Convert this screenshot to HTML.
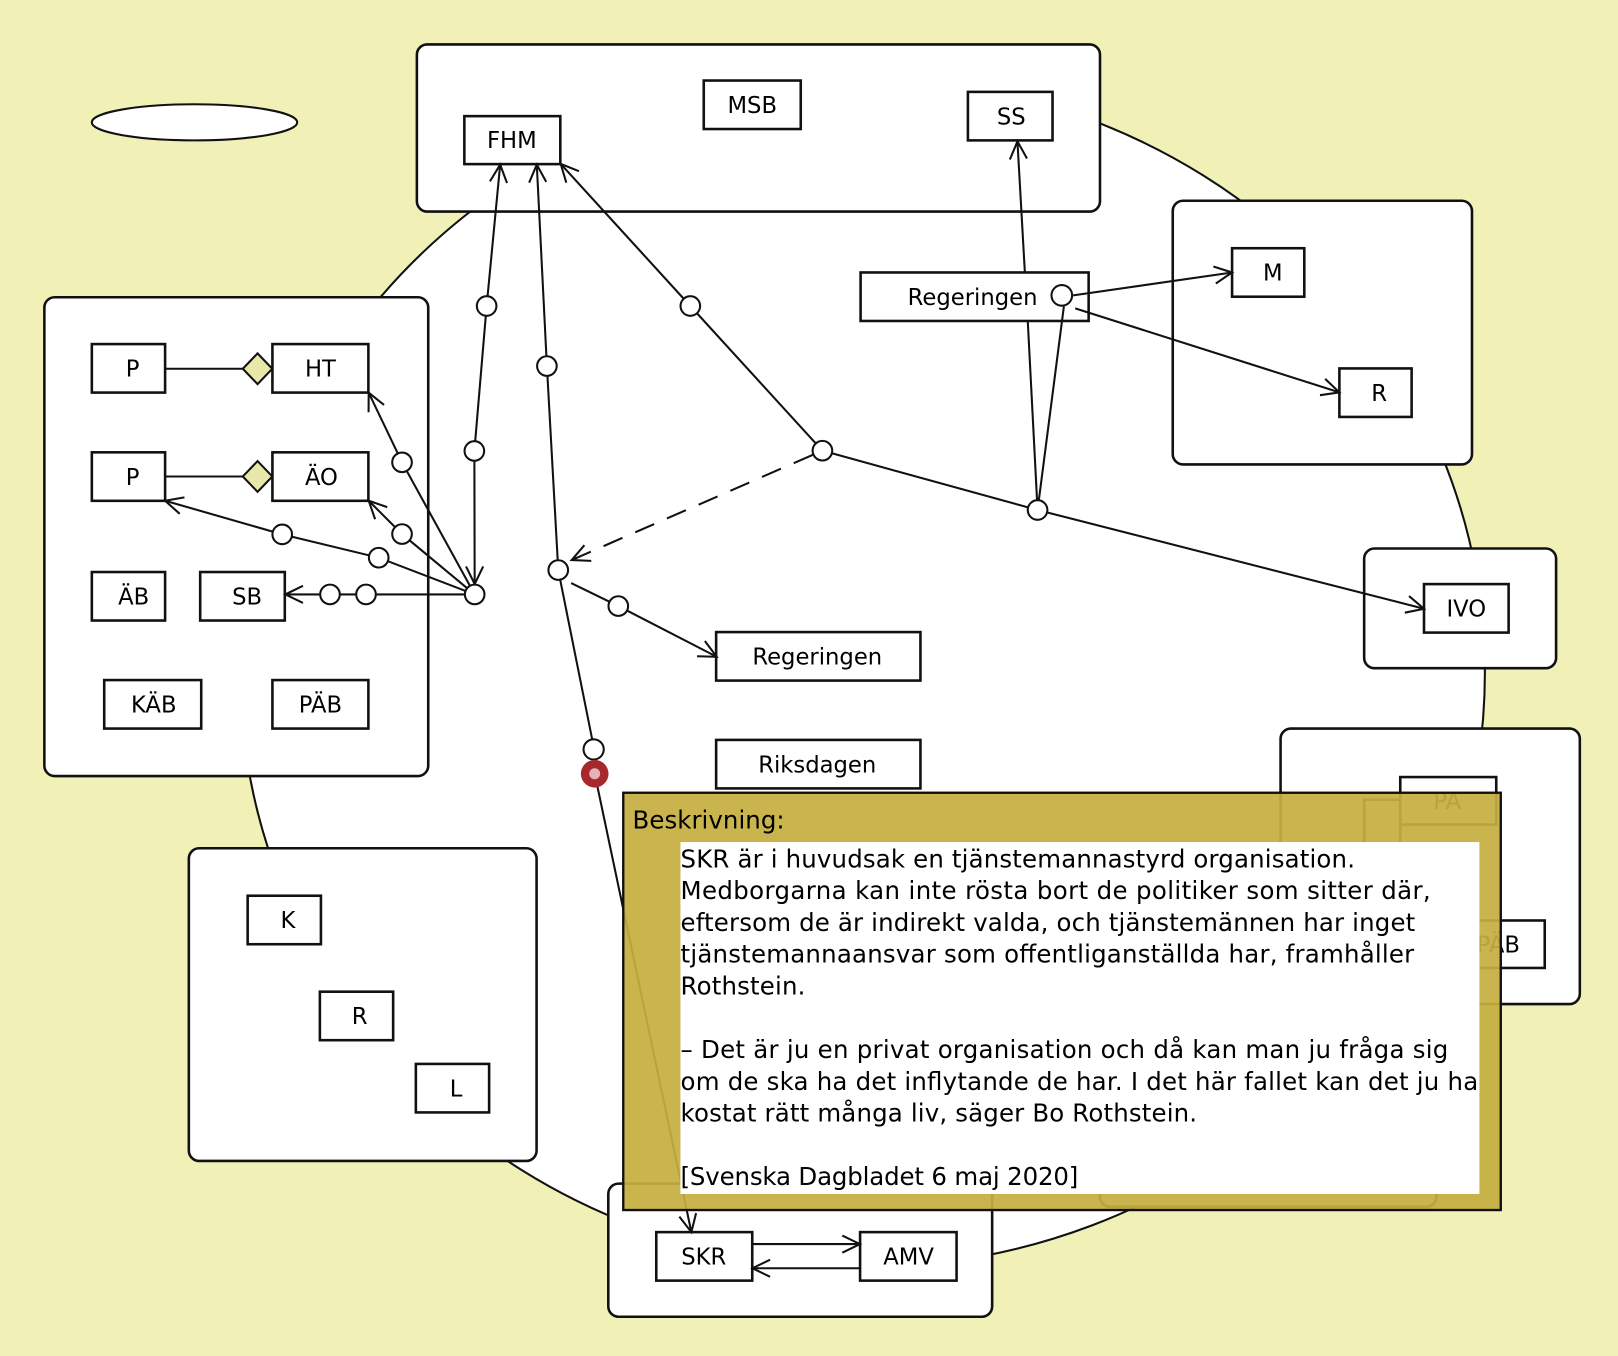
<!DOCTYPE html>
<html>
<head>
<meta charset="utf-8">
<style>
html,body{margin:0;padding:0;overflow:hidden;background:#F1F1B7;}
svg{display:block;}
text{font-family:"DejaVu Sans","Liberation Sans",sans-serif;fill:#000;}
.lbl{font-size:22px;text-anchor:middle;}
.nt{font-size:23.7px;}
.b{fill:#fff;stroke:#111;stroke-width:2.5;}
.l{fill:none;stroke:#111;stroke-width:2;}
.c{fill:#fff;stroke:#111;stroke-width:2;}
</style>
</head>
<body>
<svg width="1618" height="1356" viewBox="0 0 1568 1314" xmlns="http://www.w3.org/2000/svg">
<defs>
<marker id="a" viewBox="-20 -10 22 20" refX="0" refY="0" markerWidth="22" markerHeight="20" markerUnits="userSpaceOnUse" orient="auto-start-reverse" overflow="visible">
<path d="M-17.1,-8.3 L0,0 L-17.1,8.3" fill="none" stroke="#111" stroke-width="2"/>
</marker>
</defs>
<rect x="0" y="0" width="1568" height="1314" fill="#F1F1B7"/>

<!-- small ellipse -->
<ellipse cx="188.5" cy="118.5" rx="99.5" ry="17.5" fill="#fff" stroke="#111" stroke-width="2"/>
<!-- big ellipse -->
<ellipse cx="836" cy="652" rx="603" ry="576" fill="#fff" stroke="#111" stroke-width="2"/>

<!-- containers -->
<rect class="b" x="404" y="43" width="662" height="162" rx="10"/>
<rect class="b" x="43" y="288" width="372" height="464" rx="10"/>
<rect class="b" x="1136.5" y="194.5" width="290" height="255.5" rx="10"/>
<rect class="b" x="1322" y="531.5" width="186" height="116" rx="10"/>
<rect class="b" x="1241" y="706" width="290" height="267" rx="10"/>
<rect class="b" x="183" y="822" width="337" height="303" rx="10"/>
<rect class="b" x="589.5" y="1147" width="372" height="129" rx="10"/>
<rect class="b" x="1066" y="1000" width="326" height="169.5" rx="10"/>
<rect class="b" x="1322" y="775" width="35" height="200"/>

<!-- nodes -->
<rect class="b" x="450" y="112.5" width="93" height="46.5"/>
<text class="lbl" x="496" y="143.5">FHM</text>
<rect class="b" x="682" y="78" width="94" height="47"/>
<text class="lbl" x="729" y="109.5">MSB</text>
<rect class="b" x="938" y="89" width="82" height="47"/>
<text class="lbl" x="980" y="120.5">SS</text>
<rect class="b" x="834" y="264" width="221" height="47"/>
<text class="lbl" x="942.5" y="295.5">Regeringen</text>

<rect class="b" x="89" y="333.4" width="71" height="47"/>
<text class="lbl" x="128.5" y="365">P</text>
<rect class="b" x="264" y="333.4" width="93" height="47"/>
<text class="lbl" x="310.5" y="365">HT</text>
<rect class="b" x="89" y="438.3" width="71" height="47"/>
<text class="lbl" x="128.5" y="470">P</text>
<rect class="b" x="264" y="438.3" width="93" height="47"/>
<text class="lbl" x="311.5" y="470">ÄO</text>
<rect class="b" x="89" y="554.3" width="71" height="47"/>
<text class="lbl" x="129.5" y="586">ÄB</text>
<rect class="b" x="194" y="554.3" width="82" height="47"/>
<text class="lbl" x="239.5" y="586">SB</text>
<rect class="b" x="101" y="659" width="94" height="47"/>
<text class="lbl" x="149" y="690.5">KÄB</text>
<rect class="b" x="264" y="659" width="93" height="47"/>
<text class="lbl" x="310.5" y="690.5">PÄB</text>

<rect class="b" x="1194" y="240.5" width="70" height="47"/>
<text class="lbl" x="1233.5" y="272">M</text>
<rect class="b" x="1298" y="357" width="70" height="47"/>
<text class="lbl" x="1336.5" y="388.5">R</text>
<rect class="b" x="1380" y="566" width="82" height="47"/>
<text class="lbl" x="1421" y="597.5">IVO</text>

<rect class="b" x="694" y="612.5" width="198" height="47"/>
<text class="lbl" x="792" y="644">Regeringen</text>
<rect class="b" x="694" y="717" width="198" height="47"/>
<text class="lbl" x="792" y="748.5">Riksdagen</text>

<rect class="b" x="240" y="868" width="71" height="47"/>
<text class="lbl" x="279" y="899.5">K</text>
<rect class="b" x="310" y="961" width="71" height="47"/>
<text class="lbl" x="348.5" y="992.5">R</text>
<rect class="b" x="403" y="1031" width="71" height="47"/>
<text class="lbl" x="442" y="1062.5">L</text>

<rect class="b" x="636" y="1194" width="93" height="47"/>
<text class="lbl" x="682" y="1225.5">SKR</text>
<rect class="b" x="833.5" y="1194" width="93.5" height="47"/>
<text class="lbl" x="880.5" y="1225.5">AMV</text>

<rect class="b" x="1357" y="753" width="93" height="46"/>
<text class="lbl" x="1402.5" y="784">PA</text>
<rect class="b" x="1404" y="892" width="93" height="46"/>
<text class="lbl" x="1452" y="923">PÄB</text>

<!-- diamonds -->
<polyline class="l" points="160,357.3 235.3,357.3"/>
<polygon points="235.3,357.3 249.6,342.4 263.9,357.3 249.6,372.2" fill="#E8E8AA" stroke="#111" stroke-width="2"/>
<polyline class="l" points="160,461.7 235.3,461.7"/>
<polygon points="235.3,461.7 249.6,446.8 263.9,461.7 249.6,476.6" fill="#E8E8AA" stroke="#111" stroke-width="2"/>

<!-- connectors -->
<polyline class="l" points="460,566 459.7,437 471.6,296.5 484.7,159.5" marker-start="url(#a)" marker-end="url(#a)"/>
<polyline class="l" points="541,552.4 530,354.7 520.2,159.5" marker-end="url(#a)"/>
<polyline class="l" points="797,436.7 669,296.5 543.4,158.8" marker-end="url(#a)"/>
<polyline class="l" points="460,576 389.6,448 357.3,380.5" marker-end="url(#a)"/>
<polyline class="l" points="460,576 389.6,517.5 357.3,485.2" marker-end="url(#a)"/>
<polyline class="l" points="460,576 367,540.4 273.5,517.8 160,485.2" marker-end="url(#a)"/>
<polyline class="l" points="460,576 354.7,576 319.8,576 276.5,576" marker-end="url(#a)"/>
<polyline class="l" points="787.5,440.8 554,542.7" stroke-dasharray="20 13.5" marker-end="url(#a)"/>
<polyline class="l" points="553.5,565 599.2,587.3 694.5,636.4" marker-end="url(#a)"/>
<polyline class="l" points="541,552.4 576,727 576.4,750 670,1194" marker-end="url(#a)"/>
<polyline class="l" points="797,436.7 1005.5,494.2 1380,589.9" marker-end="url(#a)"/>
<polyline class="l" points="1005.5,494.2 996,311"/>
<polyline class="l" points="1005.5,494.2 1031,297"/>
<polyline class="l" points="993.2,264 986,137" marker-end="url(#a)"/>
<polyline class="l" points="1040,286.2 1194,264" marker-end="url(#a)"/>
<polyline class="l" points="1042,298.8 1298,380.2" marker-end="url(#a)"/>
<polyline class="l" points="729,1205.6 833.4,1205.6" marker-end="url(#a)"/>
<polyline class="l" points="833.4,1229 729.2,1229" marker-end="url(#a)"/>

<!-- small circles -->
<circle class="c" cx="459.7" cy="437" r="9.5"/>
<circle class="c" cx="471.6" cy="296.5" r="9.5"/>
<circle class="c" cx="530" cy="354.7" r="9.5"/>
<circle class="c" cx="541" cy="552.4" r="9.5"/>
<circle class="c" cx="669" cy="296.5" r="9.5"/>
<circle class="c" cx="797" cy="436.7" r="9.5"/>
<circle class="c" cx="1005.5" cy="494.2" r="9.5"/>
<circle class="c" cx="460" cy="576" r="9.5"/>
<circle class="c" cx="389.6" cy="448" r="9.5"/>
<circle class="c" cx="389.6" cy="517.5" r="9.5"/>
<circle class="c" cx="367" cy="540.4" r="9.5"/>
<circle class="c" cx="273.5" cy="517.8" r="9.5"/>
<circle class="c" cx="354.7" cy="576" r="9.5"/>
<circle class="c" cx="319.8" cy="576" r="9.5"/>
<circle class="c" cx="599.2" cy="587.3" r="9.5"/>
<circle class="c" cx="575.3" cy="726.2" r="9.8"/>
<circle class="c" cx="1029" cy="286.2" r="10"/>
<circle cx="576.3" cy="749.8" r="13.4" fill="#A6282C"/>
<circle cx="576.3" cy="749.8" r="5.3" fill="#E3B3B8"/>

<!-- note -->
<rect x="604" y="768.2" width="850.4" height="404.4" fill="#C5AE40" fill-opacity="0.93"/>
<rect x="659.4" y="816" width="774.3" height="341" fill="#fff"/>
<rect x="604" y="768.2" width="850.4" height="404.4" fill="none" stroke="#111" stroke-width="2.3"/>
<text class="nt" x="613" y="802.7" textLength="147.4" lengthAdjust="spacing">Beskrivning:</text>
<text class="nt" x="659.5" y="840.5" textLength="653.6" lengthAdjust="spacing">SKR är i huvudsak en tjänstemannastyrd organisation.</text>
<text class="nt" x="659.5" y="871.3" textLength="727" lengthAdjust="spacing">Medborgarna kan inte rösta bort de politiker som sitter där,</text>
<text class="nt" x="659.5" y="902.1" textLength="712" lengthAdjust="spacing">eftersom de är indirekt valda, och tjänstemännen har inget</text>
<text class="nt" x="659.5" y="932.9" textLength="711" lengthAdjust="spacing">tjänstemannaansvar som offentliganställda har, framhåller</text>
<text class="nt" x="659.5" y="963.7" textLength="121" lengthAdjust="spacing">Rothstein.</text>
<text class="nt" x="659.5" y="1025.3" textLength="744" lengthAdjust="spacing">– Det är ju en privat organisation och då kan man ju fråga sig</text>
<text class="nt" x="659.5" y="1056.1" textLength="773" lengthAdjust="spacing">om de ska ha det inflytande de har. I det här fallet kan det ju ha</text>
<text class="nt" x="659.5" y="1086.9" textLength="500.6" lengthAdjust="spacing">kostat rätt många liv, säger Bo Rothstein.</text>
<text class="nt" x="659.5" y="1148.5" textLength="385.5" lengthAdjust="spacing">[Svenska Dagbladet 6 maj 2020]</text>
</svg>
</body>
</html>
